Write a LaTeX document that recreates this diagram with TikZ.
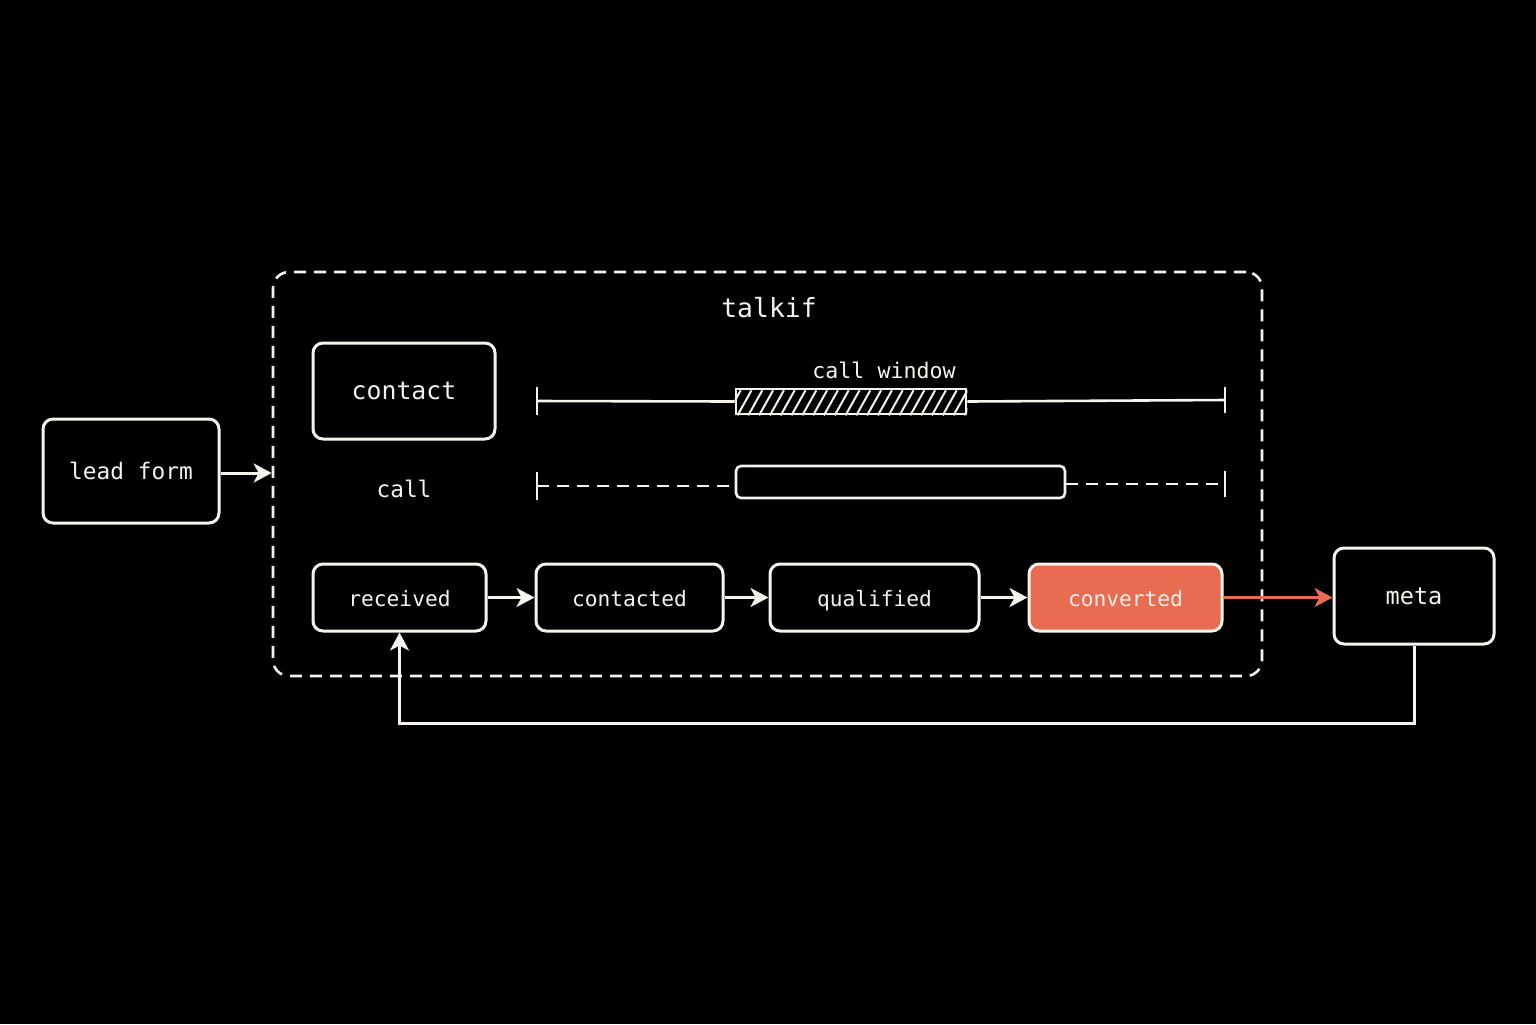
\documentclass[tikz,border=0pt]{standalone}
\usepackage{fontspec}
\setmainfont{DejaVu Sans Mono}
\usetikzlibrary{arrows.meta,calc}
\definecolor{fg}{RGB}{246,243,236}
\definecolor{accent}{RGB}{233,108,82}
\tikzset{
  x=0.5pt, y=-0.5pt,
  boxnode/.style={draw=fg, line width=1.5pt, rounded corners=5pt, fill=black, text=fg, inner sep=0pt, text height=1.9ex, text depth=0.3ex, font=\fontsize{11.4pt}{13pt}\selectfont},
  stagenode/.style={boxnode, minimum height=33.5pt, font=\fontsize{10.6pt}{12pt}\selectfont},
  arr/.style={draw=fg, line width=1.5pt, -{Stealth[length=9pt,width=9.5pt,inset=2.5pt]}},
  tline/.style={draw=fg, line width=1.3pt},
  dline/.style={draw=fg, line width=1.3pt, dash pattern=on 6pt off 4pt},
  lbl/.style={text=fg, inner sep=0pt}
}
\begin{document}
\begin{tikzpicture}
\fill[black] (0,0) rectangle (1536,1024);
\useasboundingbox (0,0) rectangle (1536,1024);

% container
\node[draw=fg, line width=1.3pt, dash pattern=on 6pt off 4pt, rounded corners=8pt,
      minimum width=494.5pt, minimum height=202pt, inner sep=0pt] (talkif) at (767.5,474) {};
\node[lbl, font=\fontsize{13.2pt}{15pt}\selectfont] (title) at (769,308) {talkif};

% left and right boxes
\node[boxnode, minimum width=88pt, minimum height=52pt] (lead) at (131,471) {lead form};
\node[boxnode, minimum width=80pt, minimum height=48pt, font=\fontsize{11.8pt}{13pt}\selectfont] (meta) at (1414,596) {meta};

% contact / call
\node[boxnode, minimum width=91pt, minimum height=48pt, font=\fontsize{12.4pt}{14pt}\selectfont] (contact) at (404,391) {contact};
\node[lbl, font=\fontsize{11.4pt}{13pt}\selectfont] (call) at (404,489) {call};

% timeline 1
\coordinate (t1l) at (537,401);
\coordinate (t1r) at (1225,400);
\node[draw=fg, line width=1.3pt, minimum width=115pt, minimum height=12.5pt, inner sep=0pt] (hb) at (851,401.5) {};
\begin{scope}
\clip (hb.south west) rectangle (hb.north east);
\foreach \i in {0,...,23} {
  \draw[fg, line width=1pt] ($(hb.south west)+(\i*10.8-8,0)$) -- ++(14,-25);
}
\end{scope}
\node[lbl, font=\fontsize{10.8pt}{12pt}\selectfont] (cw) at (884,370) {call window};
\draw[tline] (t1l) -- (hb.west);
\draw[tline] (hb.east) -- (t1r);
\draw[tline] (t1l) ++(0,-14) -- ++(0,28);
\draw[tline] (t1r) ++(0,-13) -- ++(0,26);

% timeline 2
\coordinate (t2l) at (537,486);
\coordinate (t2r) at (1225,484);
\node[draw=fg, line width=1.3pt, rounded corners=2.5pt, minimum width=164.5pt, minimum height=16pt, inner sep=0pt] (cb) at (900.5,482) {};
\draw[dline] (t2l) -- (t2l -| cb.west);
\draw[dline] (t2r -| cb.east) -- (t2r);
\draw[tline] (t2l) ++(0,-14) -- ++(0,28);
\draw[tline] (t2r) ++(0,-13) -- ++(0,26);

% stages
\node[stagenode, minimum width=86.5pt] (received) at (399.5,597.5) {received};
\node[stagenode, minimum width=93.5pt] (contacted) at (629.5,597.5) {contacted};
\node[stagenode, minimum width=104.5pt] (qualified) at (874.5,597.5) {qualified};
\node[stagenode, minimum width=96.5pt, fill=accent] (converted) at (1125.5,597.5) {converted};

% connectors
\draw[arr] (lead.east) ++(0,2) -- (talkif.west |- 0,473);
\draw[arr] (received) -- (contacted);
\draw[arr] (contacted) -- (qualified);
\draw[arr] (qualified) -- (converted);
\draw[arr, draw=accent, fill=accent] (converted.east) -- (converted.east -| meta.west);
\draw[arr] (meta.south) -- ++(0,78) -| (received.south);
\end{tikzpicture}
\end{document}
